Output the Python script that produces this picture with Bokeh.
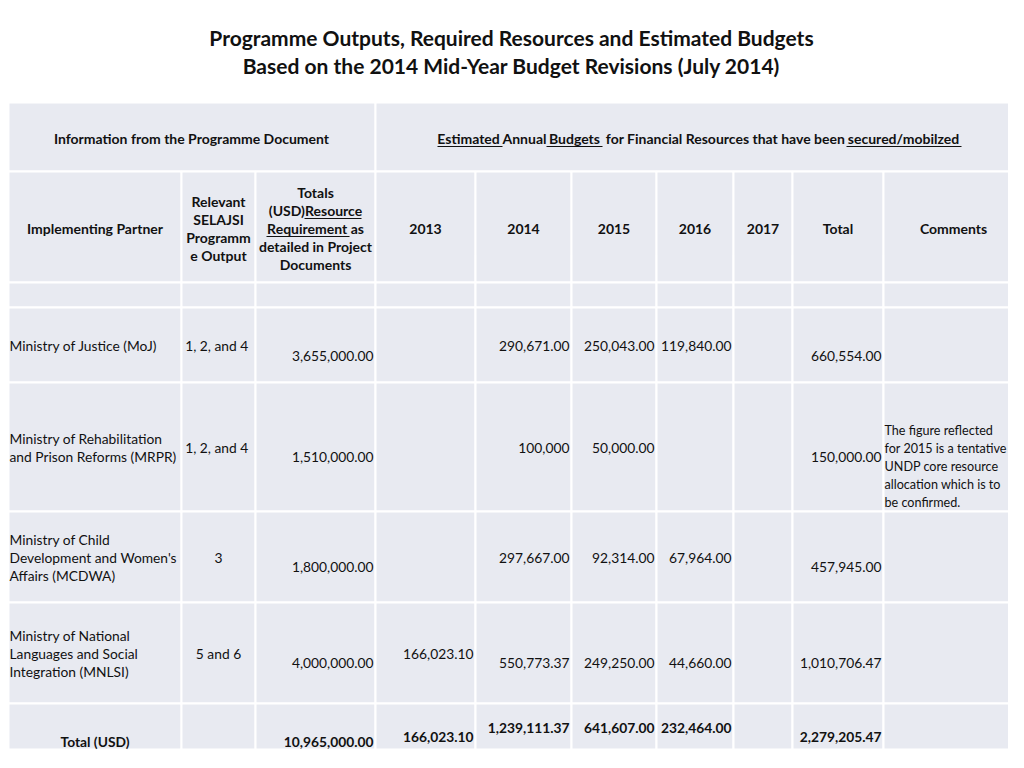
from bokeh.plotting import figure
from bokeh.models import Range1d, ColumnDataSource
from bokeh.core.properties import value
from bokeh.embed import file_html
from bokeh.resources import INLINE

# ---------------- data ----------------
title_lines = ["Programme Outputs, Required Resources and Estimated Budgets",
               "Based on the 2014 Mid-Year Budget Revisions (July 2014)"]
group_headers = ["Information from the Programme Document",
                 "Estimated Annual Budgets for Financial Resources that have been secured/mobilzed"]
col_headers = ["Implementing Partner",
               "Relevant\nSELAJSI\nProgramm\ne Output",
               "Totals\n(USD)Resource\nRequirement as\ndetailed in Project\nDocuments",
               "2013", "2014", "2015", "2016", "2017", "Total", "Comments"]
partners = ["Ministry of Justice (MoJ)",
            "Ministry of Rehabilitation\nand Prison Reforms (MRPR)",
            "Ministry of Child\nDevelopment and Women's\nAffairs (MCDWA)",
            "Ministry of National\nLanguages and Social\nIntegration (MNLSI)"]
outputs = ["1, 2,  and 4", "1, 2,  and 4", "3", "5 and 6"]
requirement = ["3,655,000.00", "1,510,000.00", "1,800,000.00", "4,000,000.00"]
b2013 = ["", "", "", "166,023.10"]
b2014 = ["290,671.00", "100,000", "297,667.00", "550,773.37"]
b2015 = ["250,043.00", "50,000.00", "92,314.00", "249,250.00"]
b2016 = ["119,840.00", "", "67,964.00", "44,660.00"]
b2017 = ["", "", "", ""]
row_totals = ["660,554.00", "150,000.00", "457,945.00", "1,010,706.47"]
comments = ["",
            "The figure reflected\nfor 2015 is a tentative\nUNDP core resource\nallocation which is to\nbe confirmed.",
            "", ""]
total_label = "Total (USD)"
total_row = ["", "10,965,000.00", "166,023.10", "1,239,111.37", "641,607.00",
             "232,464.00", "", "2,279,205.47", ""]

# ---------------- layout ----------------
FONT = "Lato"
CELL = "#E8EAF1"
BODY = 13.8
HEAD = 14
col_edges = [9, 182, 256, 376, 476, 572, 657, 734, 793, 884, 1024]
row_edges = [103, 172, 283, 308, 383, 512, 603, 704, 750]
LH = 18

p = figure(width=1008, height=752, x_range=Range1d(1, 1009), y_range=Range1d(753, 1),
           output_backend="svg", toolbar_location=None, min_border=0,
           x_axis_location=None, y_axis_location=None)
p.grid.visible = False
p.outline_line_color = None
p.background_fill_color = "white"
p.border_fill_color = "white"

# cells
L, R, T, B = [], [], [], []
for (a, b) in [(col_edges[0], col_edges[3]), (col_edges[3], col_edges[-1])]:
    L.append(a); R.append(b); T.append(row_edges[0]); B.append(row_edges[1])
for r in range(1, len(row_edges) - 1):
    for c in range(len(col_edges) - 1):
        L.append(col_edges[c]); R.append(col_edges[c + 1])
        T.append(row_edges[r]); B.append(row_edges[r + 1])
p.quad(left=L, right=R, top=T, bottom=B, fill_color=CELL, line_color="white", line_width=2)

items = []  # (x, y, text, align, bold, size)


def add(x, y, text, align="left", bold=False, size=BODY):
    lines = text.split("\n")
    n = len(lines)
    for i, ln in enumerate(lines):
        if ln:
            items.append((x, y + (i - (n - 1) / 2) * LH, ln, align, bold, size))


def cx(c):
    return (col_edges[c] + col_edges[c + 1]) / 2


def rx(c):
    return col_edges[c + 1] - 2


# title
add(512, 38, title_lines[0], "center", True, 21)
add(512, 66, title_lines[1], "center", True, 21)

# group headers
add(192, 139, group_headers[0], "center", True, HEAD)
gh_parts = [("Estimated", 469), ("Annual", 525), ("Budgets", 575),
            ("for Financial Resources that have been", 726), ("secured/mobilzed", 904)]
for part, xc in gh_parts:
    add(xc, 139, part, "center", True, HEAD)
underlines = [(438, 503, 147), (547, 603, 147), (847, 962, 147),
              (305, 362, 219), (267, 350, 237)]

# column headers
for c, h in enumerate(col_headers):
    add(cx(c), 229, h, "center", True, HEAD)

# data rows: y positions for (main, lower)
row_y = [(346, 356), (448, 457), (558, 567), (654, 663)]
low_years = [False, False, False, True]
for i in range(4):
    ym, yl = row_y[i]
    add(10, ym, partners[i], "left")
    add(cx(1), ym, outputs[i], "center")
    add(rx(2), yl, requirement[i], "right")
    add(rx(3), ym, b2013[i], "right")
    yb = yl if low_years[i] else ym
    add(rx(4), yb, b2014[i], "right")
    add(rx(5), yb, b2015[i], "right")
    add(rx(6), yb, b2016[i], "right")
    add(rx(7), yb, b2017[i], "right")
    add(rx(8), yl, row_totals[i], "right")
    add(col_edges[9] + 1, 467, comments[i], "left", False, 12.6)

# total row
add(cx(0), 742, total_label, "center", True)
tot_y = [742, 742, 737, 728, 728, 728, 737, 737, 737]
for j, v in enumerate(total_row):
    add(rx(j + 1), tot_y[j], v, "right", True)

# underlines
for x0, x1, y in underlines:
    p.segment(x0=[x0], y0=[y], x1=[x1], y1=[y], line_color="#111111", line_width=1)

groups = {}
for it in items:
    groups.setdefault((it[3], it[4], it[5]), []).append(it)
for (align, bold, size), its in groups.items():
    src = ColumnDataSource(dict(x=[t[0] for t in its], y=[t[1] for t in its],
                                text=[t[2] for t in its]))
    p.text(x="x", y="y", text="text", source=src, text_align=align,
           text_baseline="middle", text_font=value(FONT),
           text_font_size=f"{size}px", text_font_style="bold" if bold else "normal",
           text_color="#111111")

open("out.html", "w").write(file_html(p, INLINE))
